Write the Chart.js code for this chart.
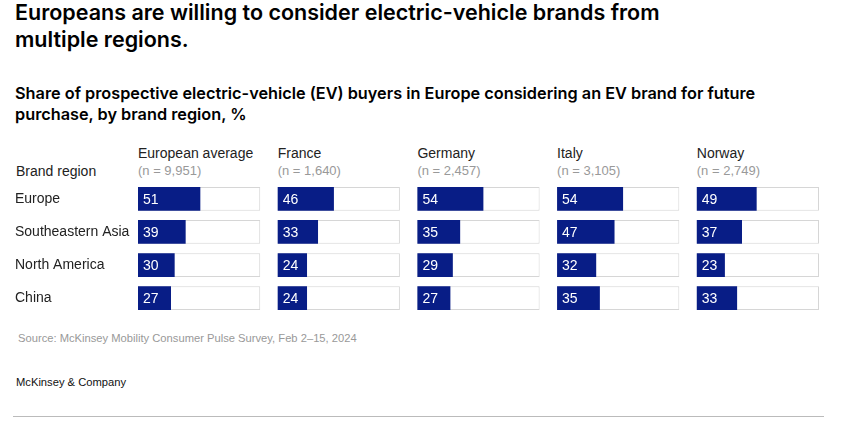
<!DOCTYPE html>
<html>
<head>
<meta charset="utf-8">
<script src="https://cdn.jsdelivr.net/npm/chart.js@4"></script>
<style>
  body { margin: 0; width: 864px; height: 434px; background: #fff; position: relative; overflow: hidden;
         font-family: "Liberation Sans", Arial, sans-serif; color: #111; }
  .abs { position: absolute; white-space: nowrap; }
  .title { left: 15px; top: -1px; font-family: Inter, sans-serif; font-size: 21.5px; line-height: 27px; font-weight: 600; color: #000; }
  .subtitle { left: 15px; top: 83px; font-family: Inter, sans-serif; font-size: 16.3px; line-height: 21px; font-weight: 600; color: #000; }
  .head { font-size: 14px; line-height: 17px; color: #222; }
  .n { font-size: 13px; line-height: 16px; color: #999; }
  .source { left: 18px; top: 332px; font-size: 11.2px; color: #999; }
  .brand { left: 16px; top: 376px; font-size: 11.2px; color: #111; }
  .rule { left: 13px; top: 416px; width: 811px; height: 1px; background: #bbb; }
  #wrap { position: absolute; left: 15px; top: 174px; width: 804px; height: 149px; }
</style>
</head>
<body>
<div class="abs title">Europeans are willing to consider electric-vehicle brands from<br>multiple regions.</div>
<div class="abs subtitle">Share of prospective electric-vehicle (EV) buyers in Europe considering an EV brand for future<br>purchase, by brand region, %</div>
<div class="abs head" style="left:16px;top:163px;">Brand region</div>
<div id="heads"></div>
<div id="wrap"><canvas id="chart"></canvas></div>
<div class="abs source">Source: McKinsey Mobility Consumer Pulse Survey, Feb 2–15, 2024</div>
<div class="abs brand">McKinsey &amp; Company</div>
<div class="abs rule"></div>

<script>
// Brand regions (rows) and markets (panels)
const regions = ['Europe', 'Southeastern Asia', 'North America', 'China'];
const markets = ['European average', 'France', 'Germany', 'Italy', 'Norway'];
const sampleSizes = ['9,951', '1,640', '2,457', '3,105', '2,749'];

// Share considering each brand region, %
const europeanAverage = [51, 39, 30, 27];
const france = [46, 33, 24, 24];
const germany = [54, 35, 29, 27];
const italy = [54, 47, 32, 35];
const norway = [49, 37, 23, 33];

const panelValues = [europeanAverage, france, germany, italy, norway];

// each panel is a 0-100 scale; panels sit side by side on one shared x axis
const panelSpan = 100;
const panelGap = 14.3;          // gap between panels, in % units
const panelStep = panelSpan + panelGap;
const navy = 'rgb(8, 29, 134)';
const labelWidth = 123;

const datasets = [];
panelValues.forEach((values, p) => {
  const start = p * panelStep;
  datasets.push({
    label: markets[p] + ' frame',
    data: values.map(() => [start, start + panelSpan]),
    backgroundColor: '#fff',
    borderColor: '#d6d6d6',
    borderWidth: 1,
    borderSkipped: false,
    grouped: false,
    order: 2
  });
  datasets.push({
    label: markets[p],
    data: values.map(v => [start, start + v]),
    values: values,
    backgroundColor: navy,
    borderWidth: 0,
    grouped: false,
    order: 1
  });
});

// White value labels drawn just inside each filled bar
const valueLabels = {
  id: 'valueLabels',
  afterDatasetsDraw(chart) {
    const ctx = chart.ctx;
    ctx.save();
    ctx.fillStyle = '#fff';
    ctx.font = '14px "Liberation Sans", Arial, sans-serif';
    ctx.textBaseline = 'middle';
    chart.data.datasets.forEach((ds, d) => {
      if (!ds.values) return;
      chart.getDatasetMeta(d).data.forEach((bar, i) => {
        const left = Math.min(bar.x, bar.base);
        ctx.fillText(String(ds.values[i]), left + 5, bar.y + 1);
      });
    });
    ctx.restore();
  }
};

const chart = new Chart(document.getElementById('chart'), {
  type: 'bar',
  data: { labels: regions, datasets: datasets },
  options: {
    indexAxis: 'y',
    responsive: true,
    maintainAspectRatio: false,
    animation: false,
    layout: { padding: 0 },
    categoryPercentage: 1,
    barPercentage: 0.72,
    plugins: {
      legend: { display: false },
      tooltip: { enabled: false }
    },
    scales: {
      x: {
        display: false,
        min: 0,
        max: 4 * panelStep + panelSpan
      },
      y: {
        grid: { display: false },
        border: { display: false },
        afterFit(scale) { scale.width = labelWidth; },
        ticks: {
          crossAlign: 'far',
          padding: 0,
          color: '#222',
          font: { family: '"Liberation Sans", Arial, sans-serif', size: 14 }
        }
      }
    }
  },
  plugins: [valueLabels]
});

// panel headers placed over each panel's start on the shared x axis
const heads = document.getElementById('heads');
markets.forEach((m, p) => {
  const x = 15 + chart.scales.x.getPixelForValue(p * panelStep);
  const head = document.createElement('div');
  head.className = 'abs head';
  head.style.left = x + 'px';
  head.style.top = '145px';
  head.textContent = m;
  heads.appendChild(head);

  const n = document.createElement('div');
  n.className = 'abs n';
  n.style.left = x + 'px';
  n.style.top = '163px';
  n.textContent = '(n = ' + sampleSizes[p] + ')';
  heads.appendChild(n);
});
</script>
</body>
</html>
